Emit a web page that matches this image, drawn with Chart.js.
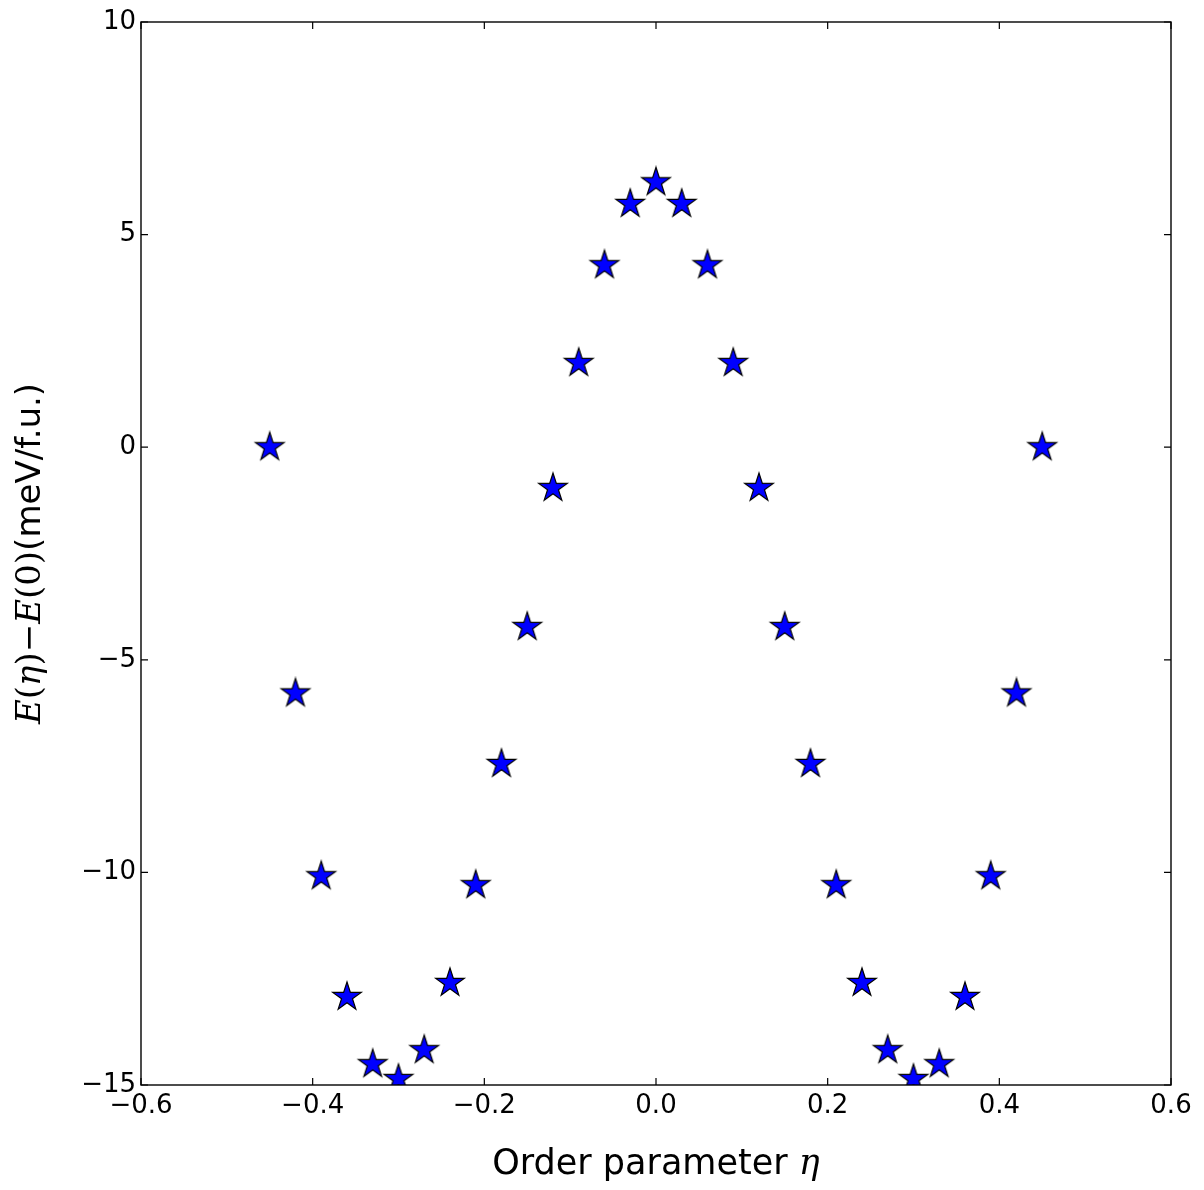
<!DOCTYPE html>
<html>
<head>
<meta charset="utf-8">
<script src="https://cdn.jsdelivr.net/npm/chart.js@4.4.0/dist/chart.umd.min.js"></script>
<style>
  html, body { margin: 0; padding: 0; background: #ffffff; }
  #wrap { width: 1204px; height: 1190px; }
</style>
</head>
<body>
<div id="wrap"><canvas id="c" width="1204" height="1190"></canvas></div>
<script>
// ---- data ----
const etaValues = [-0.45, -0.42, -0.39, -0.36, -0.33, -0.30, -0.27, -0.24, -0.21, -0.18, -0.15, -0.12, -0.09, -0.06, -0.03,
                   0.00, 0.03, 0.06, 0.09, 0.12, 0.15, 0.18, 0.21, 0.24, 0.27, 0.30, 0.33, 0.36, 0.39, 0.42, 0.45];
const energyValues = [0.0, -5.79, -10.09, -12.93, -14.51, -14.86, -14.18, -12.60, -10.30, -7.45, -4.23, -0.96, 1.98, 4.28, 5.72,
                      6.23, 5.72, 4.28, 1.98, -0.96, -4.23, -7.45, -10.30, -12.60, -14.18, -14.86, -14.51, -12.93, -10.09, -5.79, 0.0];
const xTickValues = [-0.6, -0.4, -0.2, 0.0, 0.2, 0.4, 0.6];
const yTickValues = [-15, -10, -5, 0, 5, 10];
const xTitleParts = [["Order parameter ", "sans"], ["η", "mathit"]];
const yTitleParts = [["E", "mathit"], ["(", "math"], ["η", "mathit"], [")", "math"], ["−", "math"], ["E", "mathit"], ["(0)", "math"], ["(meV/f.u.)", "sans"]];

// ---- star marker ----
function makeStar(R) {
  const s = Math.ceil(2 * R + 4);
  const cv = document.createElement('canvas');
  cv.width = s; cv.height = s;
  const g = cv.getContext('2d');
  const cx = s / 2, cy = s / 2, r = R * 0.381966;
  g.beginPath();
  for (let i = 0; i < 10; i++) {
    const rad = (i % 2 === 0) ? R : r;
    const a = -Math.PI / 2 + i * Math.PI / 5;
    const px = cx + rad * Math.cos(a), py = cy + rad * Math.sin(a);
    if (i === 0) g.moveTo(px, py); else g.lineTo(px, py);
  }
  g.closePath();
  g.fillStyle = '#0000ff';
  g.fill();
  g.lineWidth = 1.2;
  g.strokeStyle = '#000000';
  g.lineJoin = 'miter';
  g.stroke();
  return cv;
}
const star = makeStar(15);

function fmtMinus(v, dec) {
  if (Math.abs(v) < 1e-9) v = 0;
  const s = v.toFixed(dec);
  return s.replace('-', '−');
}

const fontFor = (kind, size) => {
  if (kind === 'sans') return size + 'px "DejaVu Sans"';
  if (kind === 'mathit') return 'italic ' + size + 'px "DejaVu Serif"';
  return size + 'px "DejaVu Serif"';
};

const frameAndTitles = {
  id: 'frameAndTitles',
  afterDraw(chart) {
    const { ctx, chartArea: a, scales } = chart;
    ctx.save();
    ctx.strokeStyle = '#000';
    ctx.lineWidth = 1.4;
    ctx.strokeRect(a.left, a.top, a.right - a.left, a.bottom - a.top);
    const tl = 7;
    ctx.lineWidth = 1.2;
    ctx.beginPath();
    scales.x.ticks.forEach(t => {
      const px = scales.x.getPixelForValue(t.value);
      ctx.moveTo(px, a.bottom); ctx.lineTo(px, a.bottom - tl);
      ctx.moveTo(px, a.top); ctx.lineTo(px, a.top + tl);
    });
    scales.y.ticks.forEach(t => {
      const py = scales.y.getPixelForValue(t.value);
      ctx.moveTo(a.left, py); ctx.lineTo(a.left + tl, py);
      ctx.moveTo(a.right, py); ctx.lineTo(a.right - tl, py);
    });
    ctx.stroke();

    // x title
    const size = 35;
    ctx.fillStyle = '#000';
    ctx.textBaseline = 'alphabetic';
    ctx.textAlign = 'left';
    let w = 0;
    xTitleParts.forEach(p => { ctx.font = fontFor(p[1], size); w += ctx.measureText(p[0]).width; });
    let x = (a.left + a.right) / 2 - w / 2;
    xTitleParts.forEach(p => { ctx.font = fontFor(p[1], size); ctx.fillText(p[0], x, 1174); x += ctx.measureText(p[0]).width; });

    // y title (rotated)
    const ys = 34;
    ctx.translate(40, (a.top + a.bottom) / 2);
    ctx.rotate(-Math.PI / 2);
    w = 0;
    yTitleParts.forEach(p => { ctx.font = fontFor(p[1], ys); w += ctx.measureText(p[0]).width; });
    x = -w / 2;
    yTitleParts.forEach(p => { ctx.font = fontFor(p[1], ys); ctx.fillText(p[0], x, 0); x += ctx.measureText(p[0]).width; });
    ctx.restore();
  }
};

new Chart(document.getElementById('c'), {
  type: 'scatter',
  data: {
    datasets: [{
      data: etaValues.map((v, i) => ({ x: v, y: energyValues[i] })),
      pointStyle: star,
      pointRadius: 15,
      pointHoverRadius: 15,
      clip: 0
    }]
  },
  options: {
    responsive: false,
    animation: false,
    events: [],
    layout: { padding: { left: 0, top: 22, right: 33, bottom: 0 } },
    plugins: { legend: { display: false }, tooltip: { enabled: false } },
    scales: {
      x: {
        type: 'linear',
        min: -0.6, max: 0.6,
        afterBuildTicks: s => { s.ticks = xTickValues.map(v => ({ value: v })); },
        afterFit: s => { s.height = 105; },
        grid: { display: false, drawTicks: false },
        border: { display: false },
        ticks: {
          color: '#000',
          font: { family: 'DejaVu Sans', size: 26 },
          padding: 6,
          maxRotation: 0,
          callback: v => fmtMinus(v, 1)
        }
      },
      y: {
        type: 'linear',
        min: -15, max: 10,
        afterBuildTicks: s => { s.ticks = yTickValues.map(v => ({ value: v })); },
        afterFit: s => { s.width = 141; },
        grid: { display: false, drawTicks: false },
        border: { display: false },
        ticks: {
          color: '#000',
          font: { family: 'DejaVu Sans', size: 26 },
          padding: 5,
          callback: v => fmtMinus(v, 0)
        }
      }
    }
  },
  plugins: [frameAndTitles]
});
</script>
</body>
</html>
